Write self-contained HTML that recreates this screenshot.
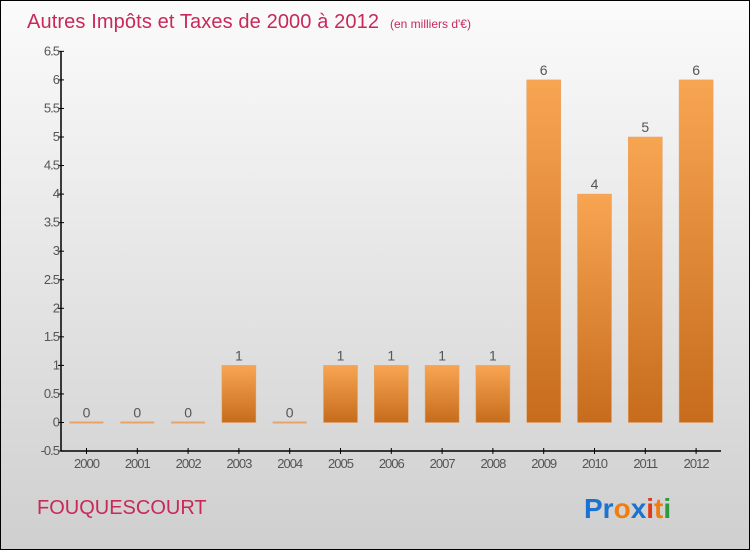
<!DOCTYPE html>
<html><head><meta charset="utf-8"><style>
body{margin:0}
#c{position:relative;width:748px;height:548px;border:1px solid #000;background:linear-gradient(#fbfbfb,#cfcfcf);font-family:"Liberation Sans",sans-serif;overflow:hidden}
</style></head><body>
<div id="c">
<svg width="748" height="548" id="s" style="position:absolute;left:0;top:0">
<defs>
<linearGradient id="bg" x1="0" y1="0" x2="0" y2="1"><stop offset="0" stop-color="#f8a552"/><stop offset="1" stop-color="#c66c1c"/></linearGradient>
</defs>
<text x="26" y="27" font-size="20" fill="#c8285a" textLength="352">Autres Impôts et Taxes de 2000 à 2012</text>
<text x="389" y="27" font-size="12" fill="#c8285a">(en milliers d'€)</text>
<text x="36" y="513" font-size="20" fill="#c8285a">FOUQUESCOURT</text>
<g font-size="28" font-weight="bold" font-family="'Liberation Sans',sans-serif">
<text x="583" y="517"><tspan fill="#1a73d0">Pr</tspan><tspan fill="#f07d10">o</tspan><tspan fill="#1a73d0">x</tspan><tspan fill="#e03a1a">i</tspan><tspan fill="#f07d10">t</tspan><tspan fill="#2a9a3a">i</tspan></text>
</g>
<g id="g"></g>
</svg>
</div>
<script>
const years=["2000","2001","2002","2003","2004","2005","2006","2007","2008","2009","2010","2011","2012"];
const values=[0,0,0,1,0,1,1,1,1,6,4,5,6];
const ticks=[-0.5,0,0.5,1,1.5,2,2.5,3,3.5,4,4.5,5,5.5,6,6.5];
const NS="http://www.w3.org/2000/svg";
const g=document.getElementById('g');
const y=v=>421.5-v*57.1;
const x=i=>85.5+i*50.8;
function el(t,a){const e=document.createElementNS(NS,t);for(const k in a)e.setAttribute(k,a[k]);g.appendChild(e);return e;}
let ax=el('line',{x1:60,y1:50,x2:60,y2:450,stroke:'#000','stroke-width':1.5});


let bx=el('line',{x1:60,y1:450,x2:720,y2:450,stroke:'#000','stroke-width':1.5});


ticks.forEach(t=>{
 el('line',{x1:57,x2:63,y1:y(t),y2:y(t),stroke:'#000'});
 const tx=el('text',{x:58,y:y(t)+4,'font-size':13,fill:'#555','text-anchor':'end','letter-spacing':'-1'});
 tx.textContent=t;
 
 
});
years.forEach((yr,i)=>{
 el('line',{x1:x(i),x2:x(i),y1:447,y2:453,stroke:'#000'});
 const tx=el('text',{x:x(i),y:467,'font-size':13,fill:'#555','text-anchor':'middle','letter-spacing':'-1'});
 tx.textContent=yr;
 
 
 const v=values[i];
 let r;
 if(v===0){r=el('rect',{x:x(i)-17,y:y(0)-1,width:34,height:2,fill:'#e8a468'});}
 else{r=el('rect',{x:x(i)-17,y:y(v),width:34,height:y(0)-y(v),fill:'url(#bg)',stroke:'#e8a060','stroke-width':0.5});}
 
 
 const lb=el('text',{x:x(i),y:y(v)-5,'font-size':14,fill:'#555','text-anchor':'middle'});
 lb.textContent=v;
 
 
});
</script>
</body></html>
